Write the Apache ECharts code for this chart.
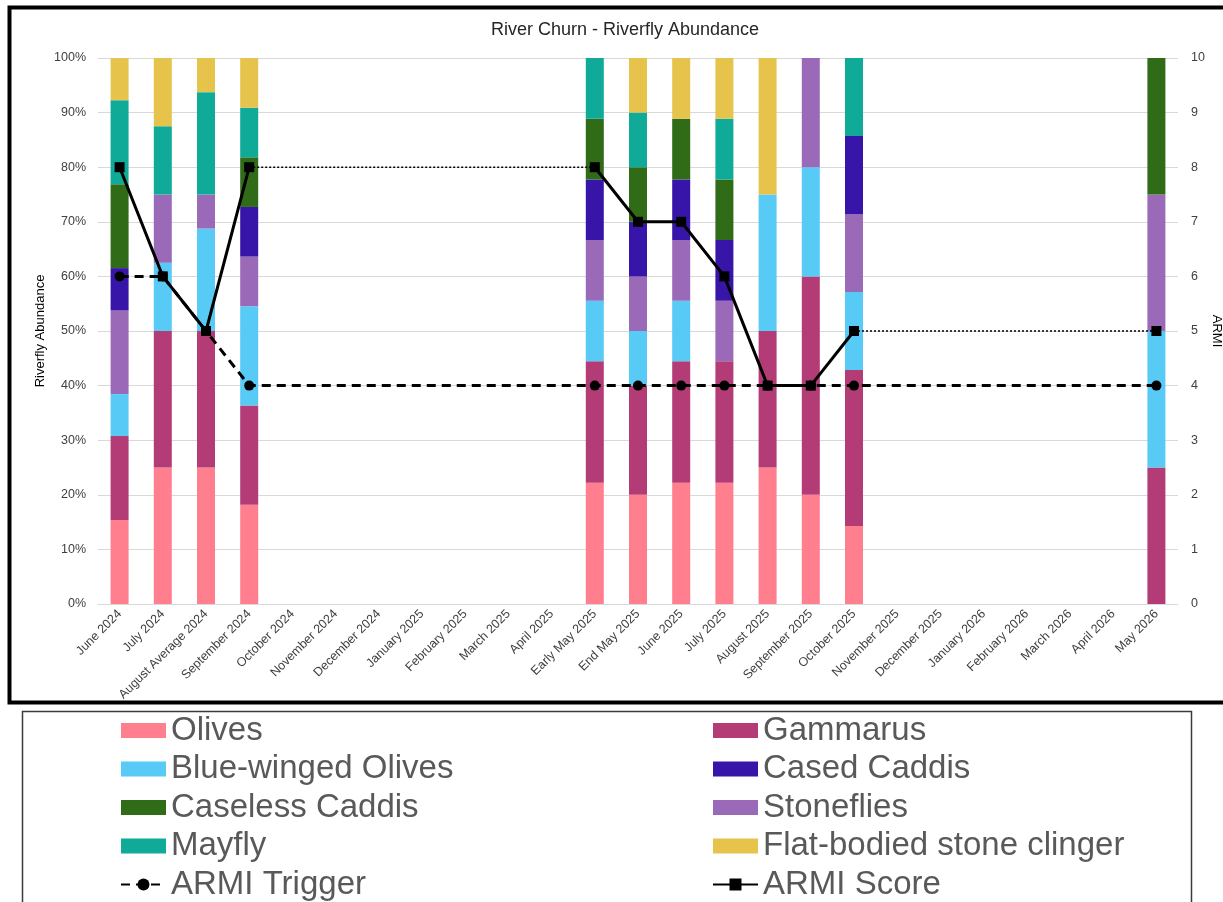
<!DOCTYPE html>
<html>
<head>
<meta charset="utf-8">
<title>River Churn - Riverfly Abundance</title>
<script src="https://cdn.jsdelivr.net/npm/echarts@6/dist/echarts.min.js"></script>
<style>
  html, body { margin: 0; padding: 0; background: #ffffff; }
  #chart { width: 1223px; height: 902px; }
</style>
</head>
<body>
<div id="chart"></div>
<script>
// Sampling occasions (x-axis categories)
const categories = [
  'June 2024', 'July 2024', 'August Average 2024', 'September 2024', 'October 2024',
  'November 2024', 'December 2024', 'January 2025', 'February 2025', 'March 2025',
  'April 2025', 'Early May 2025', 'End May 2025', 'June 2025', 'July 2025',
  'August 2025', 'September 2025', 'October 2025', 'November 2025', 'December 2025',
  'January 2026', 'February 2026', 'March 2026', 'April 2026', 'May 2026'
];

const N = null;

// Share of each riverfly group in the sample (%)
const olives     = [15.38, 25, 25, 18.18, N, N, N, N, N, N, N, 22.22, 20, 22.22, 22.22, 25, 20, 14.29, N, N, N, N, N, N, 0];
const gammarus   = [15.38, 25, 25, 18.18, N, N, N, N, N, N, N, 22.22, 20, 22.22, 22.22, 25, 40, 28.57, N, N, N, N, N, N, 25];
const blueWinged = [7.69, 12.5, 18.75, 18.18, N, N, N, N, N, N, N, 11.11, 10, 11.11, 0, 25, 20, 14.29, N, N, N, N, N, N, 25];
const casedCaddis    = [7.69, 0, 0, 9.09, N, N, N, N, N, N, N, 11.11, 10, 11.11, 11.11, 0, 0, 14.29, N, N, N, N, N, N, 0];
const caselessCaddis = [15.38, 0, 0, 9.09, N, N, N, N, N, N, N, 11.11, 10, 11.11, 11.11, 0, 0, 0, N, N, N, N, N, N, 25];
const stoneflies = [15.38, 12.5, 6.25, 9.09, N, N, N, N, N, N, N, 11.11, 10, 11.11, 11.11, 0, 20, 14.29, N, N, N, N, N, N, 25];
const mayfly     = [15.38, 12.5, 18.75, 9.09, N, N, N, N, N, N, N, 11.11, 10, 0, 11.11, 0, 0, 14.29, N, N, N, N, N, N, 0];
const flatBodied = [7.69, 12.5, 6.25, 9.09, N, N, N, N, N, N, N, 0, 10, 11.11, 11.11, 25, 0, 0, N, N, N, N, N, N, 0];

// ARMI values (right axis)
const armiTrigger = [6, 6, 5, 4, N, N, N, N, N, N, N, 4, 4, 4, 4, 4, 4, 4, N, N, N, N, N, N, 4];
const armiScore   = [8, 6, 5, 8, N, N, N, N, N, N, N, 8, 7, 7, 6, 4, 4, 5, N, N, N, N, N, N, 5];

// Axis tick labels
const leftTicks  = [0, 10, 20, 30, 40, 50, 60, 70, 80, 90, 100];
const rightTicks = [0, 1, 2, 3, 4, 5, 6, 7, 8, 9, 10];

const FONT = '"Liberation Sans", Arial, sans-serif';

// Stacked bar groups, drawn bottom to top
const groups = [
  { name: 'Olives', data: olives, color: '#ff7f8f' },
  { name: 'Gammarus', data: gammarus, color: '#b33c76' },
  { name: 'Blue-winged Olives', data: blueWinged, color: '#57caf5' },
  { name: 'Stoneflies', data: stoneflies, color: '#9a69b8' },
  { name: 'Cased Caddis', data: casedCaddis, color: '#3815a9' },
  { name: 'Caseless Caddis', data: caselessCaddis, color: '#306b18' },
  { name: 'Mayfly', data: mayfly, color: '#10ab98' },
  { name: 'Flat-bodied stone clinger', data: flatBodied, color: '#e6c44c' }
];

const barSeries = groups.map(g => ({
  name: g.name,
  type: 'bar',
  stack: 'abundance',
  yAxisIndex: 0,
  barWidth: 18,
  data: g.data,
  itemStyle: { color: g.color },
  z: 2
}));

// Thin dotted links that carry the ARMI score across months with no sample
function gapBridges(values) {
  const out = [];
  let last = -1;
  values.forEach((v, i) => {
    if (v == null) return;
    if (last >= 0 && i - last > 1) {
      const seg = values.map(() => null);
      seg[last] = values[last];
      seg[i] = v;
      out.push(seg);
    }
    last = i;
  });
  return out;
}

const bridgeSeries = gapBridges(armiScore).map((seg, k) => ({
  name: 'score-gap-' + k,
  type: 'line',
  yAxisIndex: 1,
  data: seg,
  connectNulls: true,
  symbol: 'none',
  silent: true,
  lineStyle: { color: '#000', width: 1.5, type: [2, 2] },
  z: 4
}));

const lineSeries = [
  {
    name: 'ARMI Trigger',
    type: 'line',
    yAxisIndex: 1,
    data: armiTrigger,
    connectNulls: true,
    symbol: 'circle',
    symbolSize: 10,
    itemStyle: { color: '#000' },
    lineStyle: { color: '#000', width: 3, type: [9, 6] },
    z: 5
  },
  {
    name: 'ARMI Score',
    type: 'line',
    yAxisIndex: 1,
    data: armiScore,
    connectNulls: false,
    symbol: 'rect',
    symbolSize: 10,
    itemStyle: { color: '#000' },
    lineStyle: { color: '#000', width: 3 },
    z: 6
  }
];

const legendText = { fontFamily: FONT, fontSize: 33, lineHeight: 33, color: '#595959' };

const legendBase = {
  orient: 'vertical',
  top: 714,
  height: 300,
  itemWidth: 45,
  itemHeight: 15,
  itemGap: 5.5,
  padding: 0,
  selectedMode: false,
  textStyle: legendText
};

const chart = echarts.init(document.getElementById('chart'), null, { renderer: 'canvas' });

chart.setOption({
  backgroundColor: '#ffffff',
  animation: false,
  title: {
    text: 'River Churn - Riverfly Abundance',
    left: 491,
    top: 21,
    padding: 0,
    textStyle: { fontFamily: FONT, fontSize: 18, fontWeight: 'normal', color: '#262626' }
  },
  grid: { left: 98, right: 45, top: 58, bottom: 298, containLabel: false, outerBoundsMode: 'none' },
  xAxis: {
    type: 'category',
    data: categories,
    axisTick: { show: false },
    axisLine: { lineStyle: { color: '#d9d9d9', width: 1 } },
    axisLabel: {
      interval: 0,
      rotate: 45,
      margin: 8,
      fontFamily: FONT,
      fontSize: 12.5,
      color: '#404040'
    }
  },
  yAxis: [
    {
      type: 'value',
      min: leftTicks[0],
      max: leftTicks[leftTicks.length - 1],
      interval: leftTicks[1] - leftTicks[0],
      name: 'Riverfly Abundance',
      nameLocation: 'middle',
      nameGap: 51,
      nameRotate: 90,
      nameMoveOverlap: false,
      nameTextStyle: { fontFamily: FONT, fontSize: 13, color: '#000' },
      axisLine: { show: false },
      axisTick: { show: false },
      axisLabel: { formatter: '{value}%', margin: 12, fontFamily: FONT, fontSize: 12.5, color: '#404040' },
      splitLine: { lineStyle: { color: '#d9d9d9', width: 1 } }
    },
    {
      type: 'value',
      position: 'right',
      min: rightTicks[0],
      max: rightTicks[rightTicks.length - 1],
      interval: rightTicks[1] - rightTicks[0],
      name: 'ARMI',
      nameLocation: 'middle',
      nameGap: 32,
      nameRotate: -90,
      nameMoveOverlap: false,
      nameTextStyle: { fontFamily: FONT, fontSize: 13, color: '#000' },
      axisLine: { show: false },
      axisTick: { show: false },
      axisLabel: { margin: 13, fontFamily: FONT, fontSize: 12.5, color: '#404040' },
      splitLine: { show: false }
    }
  ],
  legend: [
    Object.assign({}, legendBase, {
      left: 120,
      data: [
        { name: 'Olives', icon: 'rect' },
        { name: 'Blue-winged Olives', icon: 'rect' },
        { name: 'Caseless Caddis', icon: 'rect' },
        { name: 'Mayfly', icon: 'rect' },
        { name: 'ARMI Trigger' }
      ]
    }),
    Object.assign({}, legendBase, {
      left: 712,
      data: [
        { name: 'Gammarus', icon: 'rect' },
        { name: 'Cased Caddis', icon: 'rect' },
        { name: 'Stoneflies', icon: 'rect' },
        { name: 'Flat-bodied stone clinger', icon: 'rect' },
        { name: 'ARMI Score' }
      ]
    })
  ],
  graphic: [
    {
      type: 'rect',
      shape: { x: 9.5, y: 7.5, width: 1220, height: 695 },
      style: { fill: 'none', stroke: '#000', lineWidth: 4 },
      silent: true,
      z: 100
    },
    {
      type: 'rect',
      shape: { x: 22.5, y: 711.5, width: 1169, height: 200 },
      style: { fill: 'none', stroke: '#3a3a3a', lineWidth: 1.5 },
      silent: true,
      z: 100
    }
  ],
  series: [...barSeries, ...bridgeSeries, ...lineSeries]
});
</script>
</body>
</html>
